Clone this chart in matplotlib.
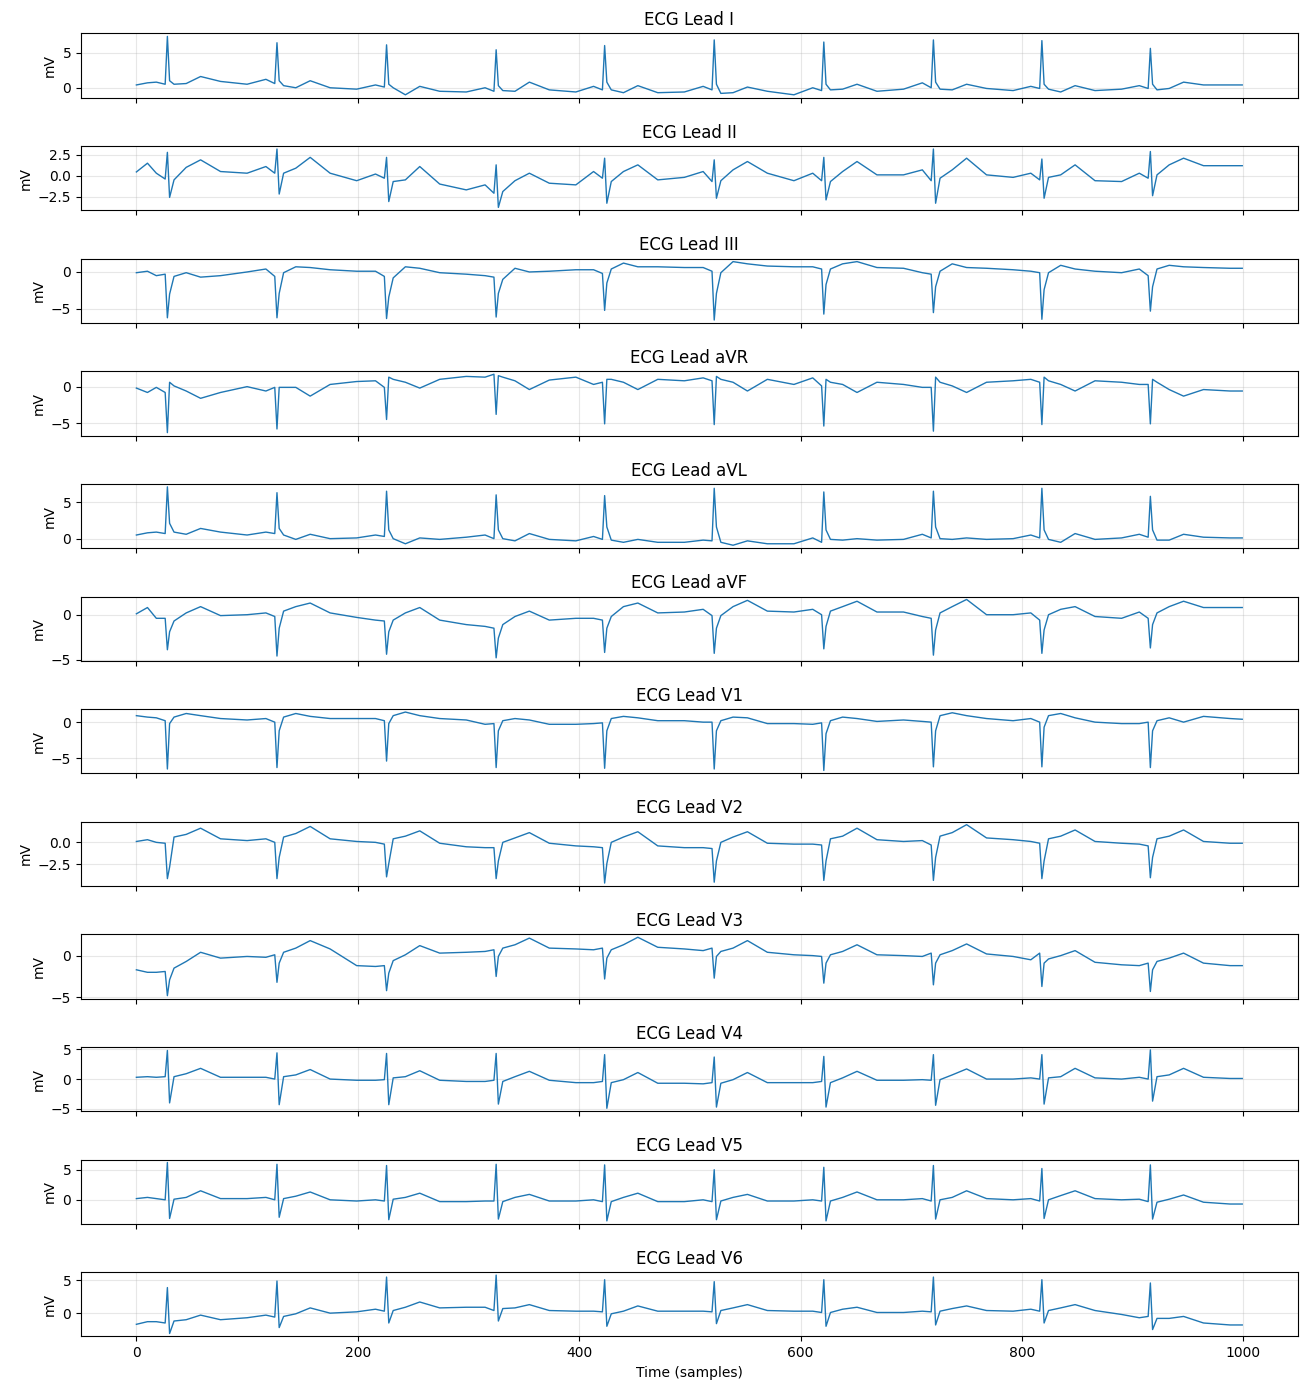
import numpy as np
import matplotlib
matplotlib.use("Agg")
import matplotlib.pyplot as plt

# R-peak sample positions (same for all leads) and the vertex offsets read around each beat
beats = [28, 127, 226, 325, 423, 522, 621, 720, 818, 916]
offsets = [-10, -2, 0, 2, 6, 17, 30, 48, 72]

lead_names = ["I", "II", "III", "aVR", "aVL", "aVF",
              "V1", "V2", "V3", "V4", "V5", "V6"]

# values (mV) at x = 0, 10, then 9 points per beat, then x = 999
lead_I = [0.4, 0.7,
          0.8, 0.5, 7.3, 1.0, 0.5, 0.6, 1.6, 0.9, 0.5,
          1.2, 0.6, 6.4, 1.0, 0.3, 0.0, 1.0, 0.0, -0.2,
          0.4, 0.1, 6.1, 0.5, 0.0, -1.0, 0.2, -0.5, -0.6,
          0.0, -0.5, 5.4, 0.3, -0.4, -0.5, 0.8, -0.3, -0.6,
          0.2, -0.3, 6.0, 0.8, -0.3, -0.7, 0.3, -0.7, -0.6,
          0.2, -0.3, 6.8, 0.5, -0.8, -0.7, 0.1, -0.5, -1.0,
          0.0, -0.4, 6.5, 0.5, -0.3, -0.2, 0.5, -0.5, -0.2,
          0.7, 0.0, 6.8, 0.8, -0.2, -0.3, 0.5, -0.1, -0.4,
          0.2, -0.1, 6.7, 0.5, -0.2, -0.6, 0.3, -0.4, -0.2,
          0.3, -0.1, 5.6, 0.5, -0.3, -0.1, 0.8, 0.4, 0.4,
          0.4]

lead_II = [0.45, 1.5,
           0.3, -0.4, 2.8, -2.6, -0.5, 1.0, 1.9, 0.5, 0.3,
           1.1, 0.3, 3.2, -2.2, 0.3, 0.9, 2.2, 0.3, -0.6,
           0.2, -0.3, 2.2, -3.1, -0.7, -0.5, 1.1, -1.0, -1.7,
           -1.1, -2.1, 1.3, -3.8, -1.9, -0.6, 0.3, -0.9, -1.1,
           0.5, -0.3, 2.1, -3.3, -0.7, 0.5, 1.3, -0.5, -0.2,
           0.5, -0.7, 1.9, -2.7, -0.6, 0.7, 1.7, 0.3, -0.6,
           0.3, -0.6, 2.2, -2.9, -0.7, 0.5, 1.7, 0.1, 0.1,
           0.7, -0.6, 3.2, -3.3, -0.3, 0.7, 2.1, 0.1, -0.2,
           0.3, -0.5, 2.0, -2.7, -0.2, 0.1, 1.3, -0.6, -0.7,
           0.3, -0.3, 2.9, -2.4, 0.1, 1.3, 2.1, 1.2, 1.2,
           1.2]

lead_III = [-0.1, 0.1,
            -0.5, -0.3, -6.2, -3.0, -0.6, -0.1, -0.7, -0.5, 0.0,
            0.4, -0.6, -6.2, -2.9, -0.1, 0.7, 0.6, 0.3, 0.1,
            0.1, -0.6, -6.3, -3.4, -0.8, 0.7, 0.5, -0.1, -0.3,
            -0.5, -0.7, -6.1, -2.9, -1.0, 0.5, 0.0, 0.1, 0.3,
            0.3, -0.2, -5.2, -1.5, 0.4, 1.2, 0.7, 0.7, 0.6,
            0.6, 0.1, -6.5, -2.9, -0.1, 1.4, 1.1, 0.8, 0.7,
            0.7, 0.4, -5.7, -1.7, 0.4, 1.1, 1.4, 0.6, 0.5,
            -0.1, -0.3, -5.5, -2.0, 0.1, 1.1, 0.6, 0.5, 0.3,
            0.1, -0.1, -6.4, -2.4, -0.1, 0.9, 0.4, 0.1, -0.1,
            0.4, -0.5, -5.3, -2.0, 0.4, 0.9, 0.7, 0.6, 0.5,
            0.5]

lead_aVR = [-0.2, -0.8,
            -0.1, -0.8, -6.3, 0.6, 0.1, -0.6, -1.6, -0.8, 0.0,
            -0.6, -0.1, -5.8, -0.1, -0.1, -0.1, -1.3, 0.3, 0.7,
            0.8, -0.1, -4.5, 1.3, 1.0, 0.6, -0.2, 1.0, 1.4,
            1.3, 1.7, -3.8, 1.5, 1.3, 0.8, -0.4, 0.9, 1.3,
            0.3, 0.6, -5.1, 1.0, 1.0, 0.6, -0.4, 1.0, 0.8,
            1.2, 0.8, -5.2, 1.4, 1.0, 0.6, -0.6, 1.0, 0.3,
            1.2, 0.1, -5.4, 1.0, 0.6, 0.3, -0.8, 0.6, 0.3,
            -0.1, -0.1, -6.1, 1.3, 0.6, 0.1, -0.8, 0.6, 0.8,
            1.0, 0.6, -5.2, 1.3, 0.8, 0.3, -0.6, 0.8, 0.6,
            0.3, 0.3, -5.1, 1.0, 0.6, -0.4, -1.3, -0.4, -0.6,
            -0.6]

lead_aVL = [0.5, 0.8,
            0.9, 0.7, 7.1, 2.1, 0.9, 0.6, 1.4, 0.9, 0.5,
            0.9, 0.7, 6.3, 1.4, 0.5, -0.1, 0.6, 0.0, 0.1,
            0.5, 0.3, 6.5, 1.2, 0.0, -0.7, 0.1, -0.1, 0.2,
            0.5, 0.0, 6.0, 1.2, 0.0, -0.3, 0.7, -0.1, -0.3,
            0.3, -0.1, 5.9, 1.6, -0.2, -0.5, -0.1, -0.5, -0.5,
            -0.2, -0.3, 6.9, 1.6, -0.5, -0.9, -0.3, -0.7, -0.7,
            0.1, -0.5, 6.4, 1.2, -0.1, -0.2, 0.0, -0.2, -0.1,
            0.6, 0.1, 6.5, 1.6, 0.0, -0.1, 0.1, -0.1, 0.0,
            0.5, 0.1, 6.9, 1.2, -0.1, -0.5, 0.7, -0.1, 0.1,
            0.6, 0.2, 5.8, 1.2, -0.2, -0.2, 0.6, 0.2, 0.1,
            0.1]

lead_aVF = [0.1, 0.8,
            -0.4, -0.4, -3.9, -1.9, -0.7, 0.2, 0.9, -0.1, 0.0,
            0.2, -0.2, -4.6, -1.5, 0.4, 0.9, 1.3, 0.2, -0.3,
            -0.6, -0.7, -4.4, -1.9, -0.6, 0.2, 0.8, -0.6, -1.1,
            -1.3, -1.5, -4.8, -2.6, -1.1, -0.2, 0.4, -0.6, -0.4,
            -0.4, -0.6, -4.2, -1.5, -0.2, 0.9, 1.3, 0.2, 0.3,
            0.6, -0.1, -4.3, -1.5, -0.1, 0.9, 1.6, 0.4, 0.3,
            0.6, 0.0, -3.8, -1.3, 0.4, 0.9, 1.5, 0.3, 0.3,
            -0.2, -0.4, -4.5, -1.7, 0.2, 0.9, 1.7, 0.0, 0.0,
            0.2, -0.6, -4.3, -1.7, 0.0, 0.6, 0.9, -0.2, -0.4,
            0.3, -0.4, -3.7, -1.1, 0.2, 0.9, 1.5, 0.8, 0.8,
            0.8]

lead_V1 = [0.9, 0.7,
           0.6, 0.2, -6.5, -0.2, 0.7, 1.2, 0.9, 0.5, 0.3,
           0.5, 0.0, -6.3, -1.2, 0.7, 1.2, 0.8, 0.5, 0.5,
           0.5, 0.2, -5.4, -0.2, 0.9, 1.4, 0.9, 0.5, 0.3,
           -0.3, -0.2, -6.3, -1.2, 0.2, 0.5, 0.3, -0.3, -0.3,
           -0.2, -0.1, -6.4, -1.2, 0.5, 0.8, 0.6, 0.2, 0.2,
           0.0, 0.0, -6.5, -1.2, 0.2, 0.7, 0.6, -0.2, -0.2,
           -0.3, -0.1, -6.7, -1.6, 0.2, 0.7, 0.5, 0.1, 0.3,
           0.1, 0.0, -6.2, -1.2, 0.9, 1.3, 0.9, 0.5, 0.2,
           0.5, 0.0, -6.2, -0.7, 0.9, 1.2, 0.6, 0.0, -0.2,
           -0.2, 0.0, -6.3, -1.2, 0.2, 0.6, 0.0, 0.8, 0.5,
           0.4]

lead_V2 = [0.1, 0.3,
           0.0, -0.1, -4.1, -2.8, 0.6, 0.9, 1.6, 0.4, 0.2,
           0.4, 0.0, -4.1, -1.7, 0.6, 1.0, 1.8, 0.4, 0.1,
           0.0, -0.2, -3.9, -2.4, 0.4, 0.7, 1.3, -0.1, -0.5,
           -0.6, -0.6, -4.1, -2.1, 0.0, 0.5, 1.1, -0.1, -0.4,
           -0.5, -0.6, -4.6, -2.4, 0.0, 0.6, 1.2, -0.4, -0.6,
           -0.6, -0.7, -4.5, -2.1, 0.0, 0.6, 1.2, -0.1, -0.2,
           -0.2, -0.3, -4.3, -2.1, 0.4, 0.7, 1.6, 0.3, 0.1,
           0.2, -0.3, -4.3, -1.7, 0.7, 1.1, 2.0, 0.5, 0.3,
           0.1, -0.1, -4.1, -2.1, 0.4, 0.7, 1.4, 0.1, -0.1,
           -0.2, -0.4, -4.0, -1.7, 0.4, 0.7, 1.4, 0.1, -0.1,
           -0.1]

lead_V3 = [-1.7, -2.0,
           -2.0, -1.9, -4.8, -2.9, -1.5, -0.7, 0.4, -0.3, -0.1,
           -0.2, 0.1, -3.2, -0.9, 0.4, 0.9, 1.8, 0.8, -1.2,
           -1.3, -1.2, -4.2, -2.1, -0.6, 0.1, 1.2, 0.3, 0.4,
           0.5, 0.7, -2.5, -0.1, 0.9, 1.3, 2.1, 0.9, 0.8,
           0.7, 0.9, -2.8, -0.3, 0.7, 1.3, 2.2, 1.0, 0.8,
           0.6, 0.9, -2.7, -0.1, 0.5, 0.9, 1.8, 0.4, 0.1,
           0.0, -0.1, -3.3, -0.9, 0.1, 0.5, 1.3, 0.1, 0.0,
           -0.1, 0.3, -3.5, -0.9, 0.1, 0.6, 1.4, 0.2, -0.1,
           -0.5, 0.3, -3.7, -0.9, -0.4, 0.0, 0.6, -0.8, -1.1,
           -1.2, -0.9, -4.3, -1.7, -0.7, -0.3, 0.3, -0.9, -1.2,
           -1.2]

lead_V4 = [0.3, 0.4,
           0.3, 0.4, 4.8, -4.0, 0.4, 0.9, 1.8, 0.3, 0.3,
           0.3, 0.0, 4.4, -4.3, 0.4, 0.7, 1.6, 0.0, -0.2,
           -0.2, -0.1, 4.3, -4.3, 0.2, 0.4, 1.4, -0.2, -0.4,
           -0.4, -0.2, 4.3, -4.2, -0.4, 0.4, 1.3, -0.2, -0.6,
           -0.6, -0.4, 4.1, -4.9, -0.6, -0.1, 1.1, -0.7, -0.7,
           -0.8, -0.6, 3.7, -4.7, -0.7, -0.1, 1.1, -0.6, -0.6,
           -0.6, -0.4, 3.8, -4.7, -0.6, 0.2, 1.3, -0.2, -0.2,
           -0.1, -0.2, 4.1, -4.4, -0.1, 0.7, 1.7, 0.0, 0.0,
           0.2, 0.0, 4.1, -4.2, 0.2, 0.4, 1.8, 0.2, 0.0,
           0.3, 0.0, 4.9, -3.7, 0.4, 0.7, 1.8, 0.3, 0.1,
           0.1]

lead_V5 = [0.2, 0.4,
           0.2, 0.0, 6.2, -3.1, 0.1, 0.4, 1.5, 0.2, 0.2,
           0.4, 0.0, 5.9, -2.9, 0.2, 0.6, 1.3, 0.0, -0.2,
           0.0, -0.2, 5.7, -3.3, 0.1, 0.4, 1.1, -0.3, -0.3,
           -0.2, -0.2, 5.9, -3.2, -0.3, 0.4, 0.9, -0.2, -0.2,
           0.0, -0.3, 5.8, -3.5, -0.3, 0.4, 1.1, -0.3, -0.3,
           0.0, -0.3, 5.0, -3.3, -0.2, 0.4, 0.9, -0.2, -0.2,
           0.0, -0.2, 5.4, -3.5, -0.2, 0.4, 1.3, 0.0, 0.0,
           0.2, -0.2, 5.7, -3.2, 0.0, 0.4, 1.5, 0.2, 0.0,
           0.2, -0.2, 5.2, -3.1, 0.0, 0.7, 1.5, 0.2, 0.0,
           0.1, -0.3, 5.8, -3.2, -0.4, 0.1, 0.8, -0.4, -0.7,
           -0.7]

lead_V6 = [-1.7, -1.3,
           -1.3, -1.5, 3.9, -3.1, -1.2, -1.0, -0.3, -1.0, -0.7,
           -0.3, -0.6, 4.9, -2.2, -0.5, -0.1, 0.8, 0.0, 0.2,
           0.6, 0.3, 5.5, -1.5, 0.4, 0.9, 1.7, 0.8, 0.9,
           0.9, 0.4, 5.8, -1.2, 0.7, 0.8, 1.3, 0.4, 0.3,
           0.3, 0.2, 5.1, -2.0, -0.1, 0.3, 1.1, 0.3, 0.3,
           0.3, 0.2, 4.8, -1.6, 0.4, 0.8, 1.3, 0.4, 0.3,
           0.3, 0.1, 5.1, -2.0, 0.1, 0.6, 0.9, 0.1, 0.1,
           0.3, 0.2, 5.5, -1.8, 0.3, 0.7, 1.1, 0.4, 0.3,
           0.6, 0.3, 5.1, -1.5, 0.4, 0.8, 1.3, 0.4, -0.2,
           -0.7, -0.5, 4.6, -2.5, -0.8, -0.8, -0.5, -1.5, -1.8,
           -1.8]

leads = [lead_I, lead_II, lead_III, lead_aVR, lead_aVL, lead_aVF,
         lead_V1, lead_V2, lead_V3, lead_V4, lead_V5, lead_V6]

# sample positions of the vertices
t = [0, 10] + [b + o for b in beats for o in offsets] + [999]

fig, axes = plt.subplots(12, 1, figsize=(13.08, 13.95), sharex=True)
fig.subplots_adjust(left=0.062, right=0.992, top=0.976, bottom=0.042, hspace=0.753)

for ax, name, sig in zip(axes, lead_names, leads):
    ax.plot(t, sig, color="tab:blue", linewidth=1)
    ax.set_title("ECG Lead {}".format(name))
    ax.set_ylabel("mV")
    ax.grid(True, alpha=0.3)

axes[-1].set_xlabel("Time (samples)")

plt.savefig("out.png", dpi=100)
